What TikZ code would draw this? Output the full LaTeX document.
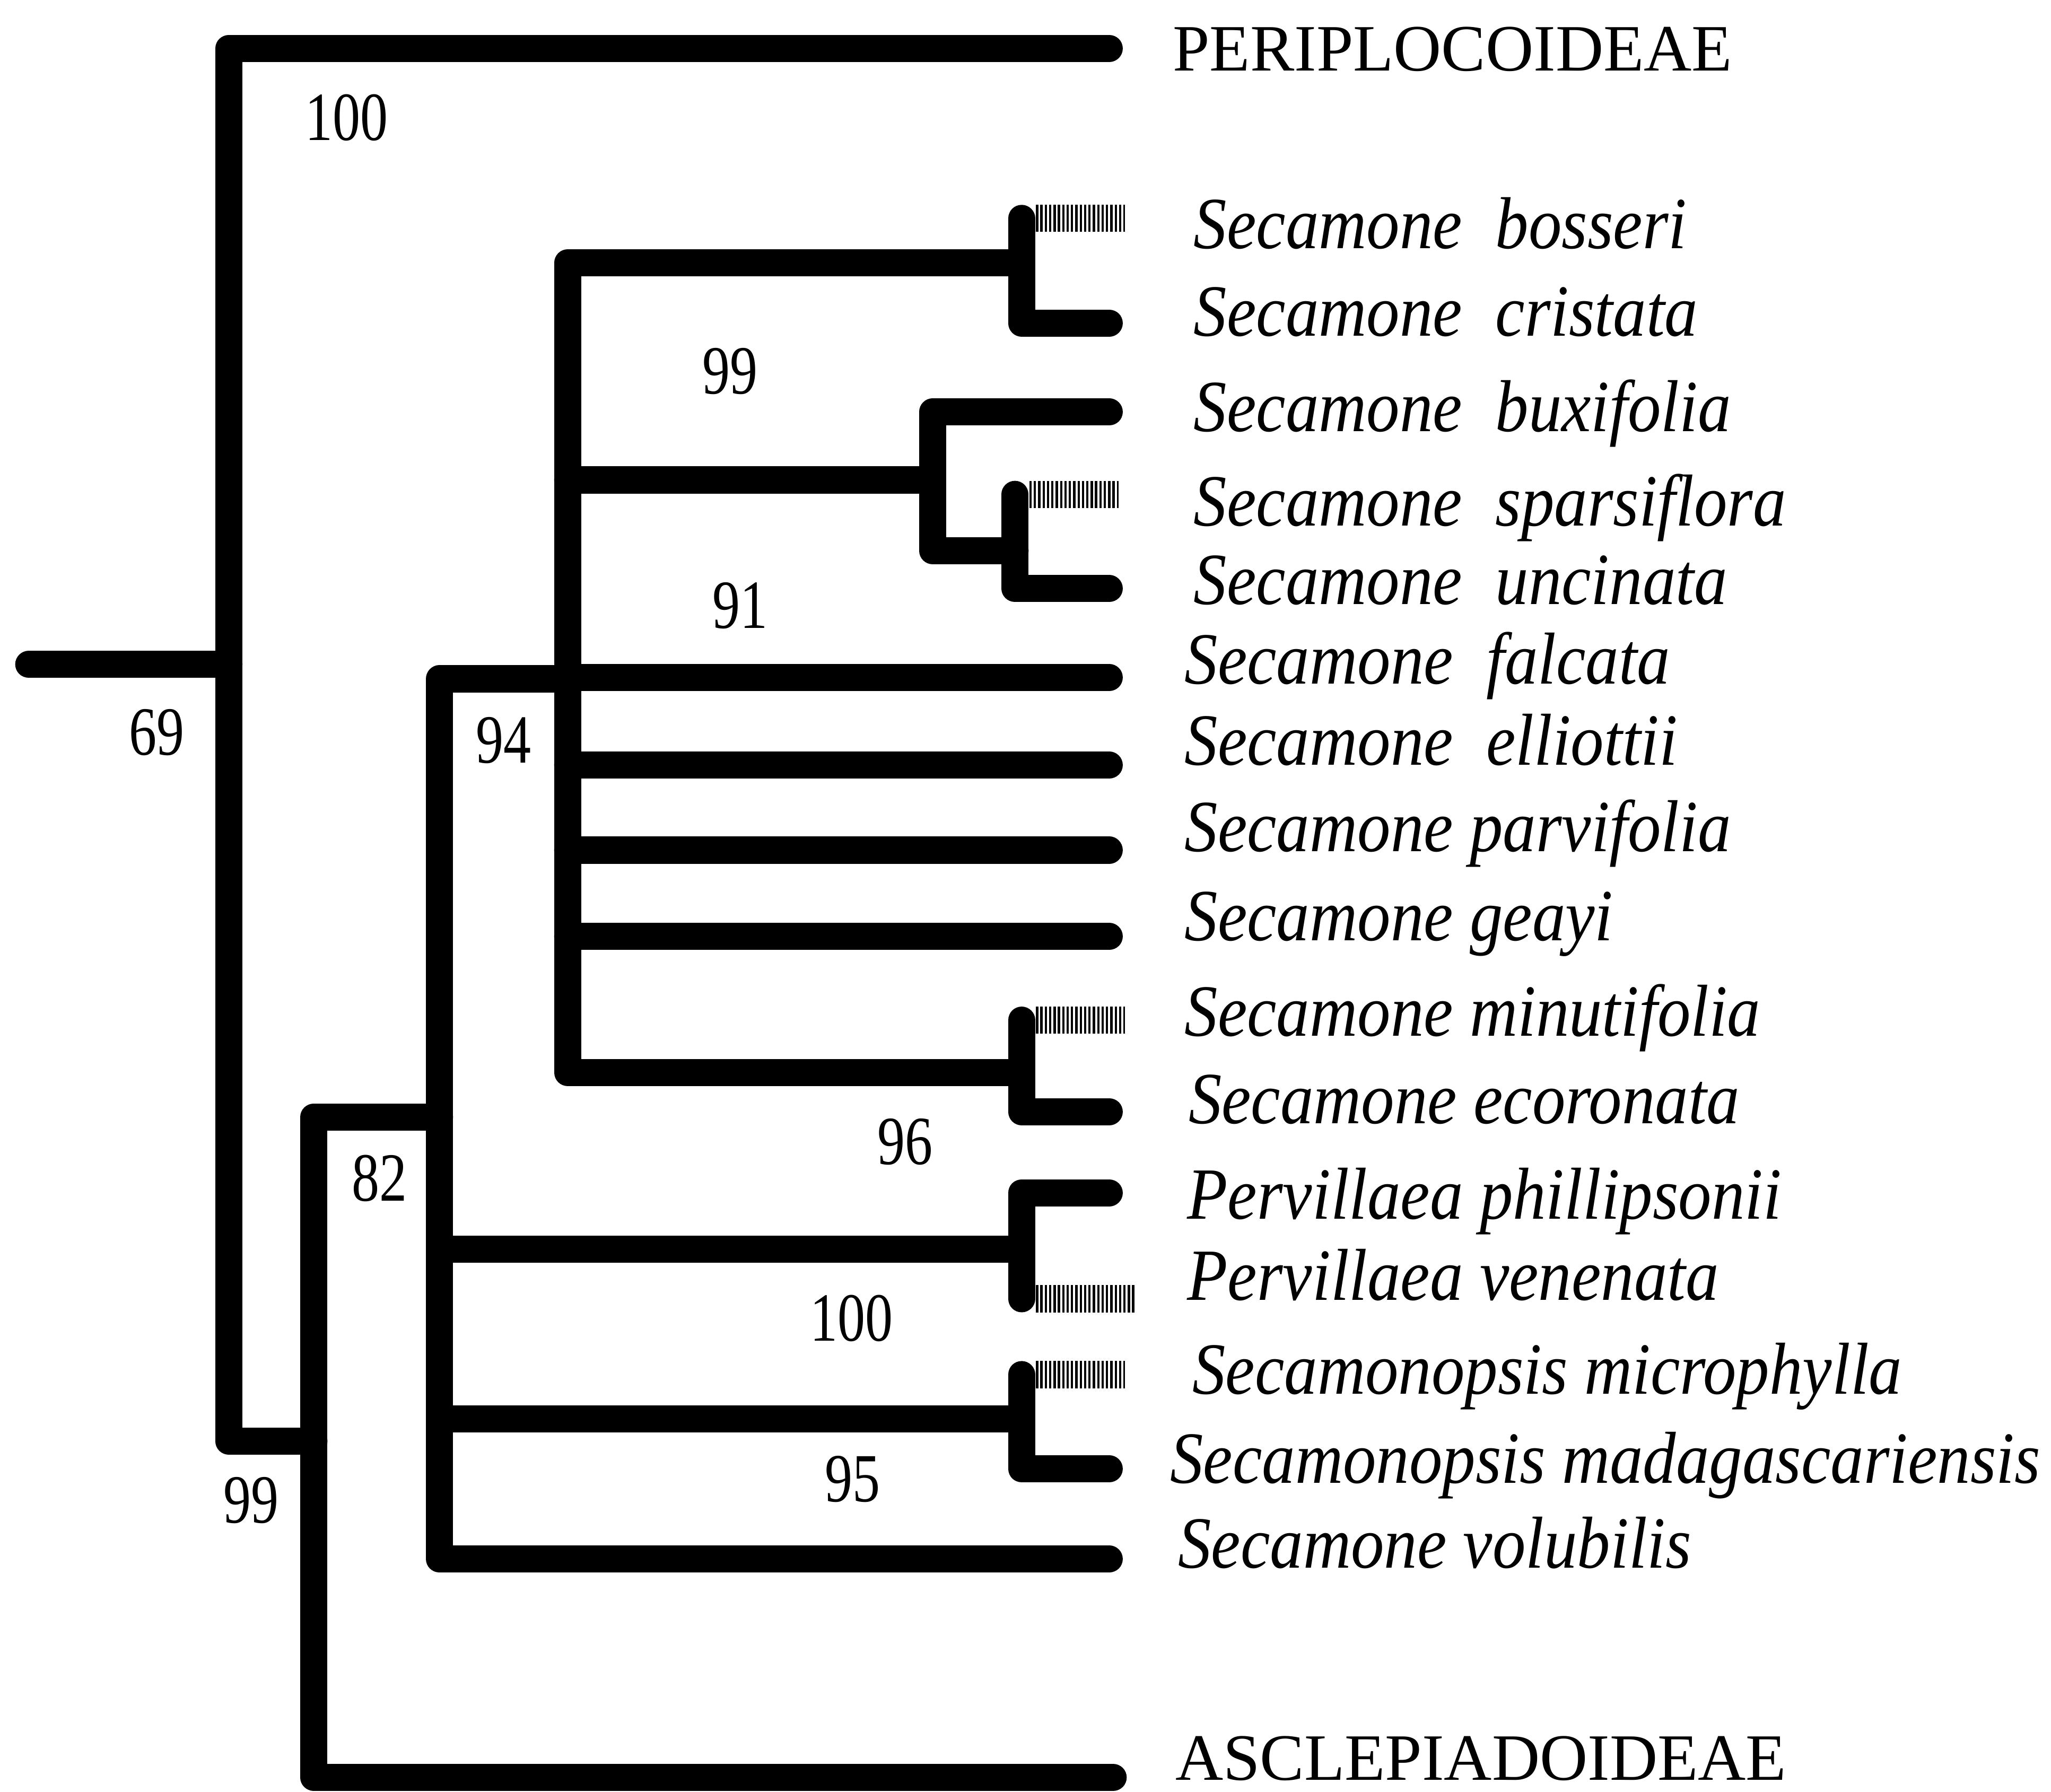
\documentclass[tikz,border=0pt]{standalone}
\usepackage{fontspec}
\setmainfont{Liberation Serif}
\newfontfamily\taxfont{Liberation Serif}[FakeStretch=0.9]
\newfontfamily\supfont{Liberation Serif}[FakeStretch=0.8]
\usetikzlibrary{calc}

\begin{document}
\begin{tikzpicture}[
  x=0.01cm, y=-0.01cm,
  br/.style={line width=5.9pt, line cap=round, line join=round},
  hatch/.style={line width=5.9pt, dash pattern=on 0.5pt off 0.45pt},
  taxon/.style={anchor=base west, inner sep=0pt,
                font=\taxfont\fontsize{16}{19}\selectfont\itshape},
  group/.style={anchor=base west, inner sep=0pt, font=\fontsize{14.4}{17}\selectfont},
  bs/.style={inner sep=0pt, font=\supfont\fontsize{15}{17}\selectfont},
]
\useasboundingbox (0,0) rectangle (1568,1370);

% internal nodes
\coordinate (root) at (22,508);
\coordinate (r)    at (175,508);
\coordinate (n99b) at (240,1102);
\coordinate (n82)  at (336,854);
\coordinate (n94)  at (434,519);
\coordinate (nBos) at (781,201);
\coordinate (n99a) at (713,367);
\coordinate (nSpa) at (776,421);
\coordinate (nMin) at (781,820);
\coordinate (nPer) at (781,955);
\coordinate (nSmp) at (781,1085);

% tips
\coordinate (tPeri) at (848,37);
\coordinate (tBos) at (781,167);
\coordinate (tCri) at (848,247);
\coordinate (tBux) at (848,315);
\coordinate (tSpa) at (776,378);
\coordinate (tUnc) at (848,450);
\coordinate (tFal) at (848,518);
\coordinate (tEll) at (848,585);
\coordinate (tPar) at (848,650);
\coordinate (tGea) at (848,716);
\coordinate (tMin) at (781,780);
\coordinate (tEco) at (848,850);
\coordinate (tPhi) at (848,912);
\coordinate (tVen) at (781,993);
\coordinate (tMic) at (781,1051);
\coordinate (tMad) at (848,1123);
\coordinate (tVol) at (848,1192);
\coordinate (tAscl) at (851,1359);

\draw[br] (root) -- (r);
\draw[br] (tPeri) -| (r) |- (n99b);
\draw[br] (n82) -| (n99b) |- (tAscl);
\draw[br] (n94) -| (n82) |- (tVol);
\draw[br] (n82 |- nPer) -- (nPer);
\draw[br] (n82 |- nSmp) -- (nSmp);
\draw[br] (nBos) -| (n94) |- (nMin);
\foreach \t in {n99a,tFal,tEll,tPar,tGea}
  \draw[br] (n94 |- \t) -- (\t);
\draw[br] (tBos) |- (tCri);
\draw[br] (tBux) -| (n99a) |- (nSpa);
\draw[br] (tSpa) |- (tUnc);
\draw[br] (tMin) |- (tEco);
\draw[br] (tPhi) -| (tVen);
\draw[br] (tMic) |- (tMad);
\foreach \t in {tBos,tSpa,tMin,tMic}
  \draw[hatch] ($(\t)+(11,0)$) -- ++(68,0);
\draw[hatch] ($(tVen)+(11,0)$) -- ++(76,0);

\node[group] (lPeri) at (896,54) {PERIPLOCOIDEAE};
\node[taxon] (lBos) at (912,190) {Secamone\ \ bosseri};
\node[taxon] (lCri) at (912,257) {Secamone\ \ cristata};
\node[taxon] (lBux) at (912,330) {Secamone\ \ buxifolia};
\node[taxon] (lSpa) at (912,402) {Secamone\ \ sparsiflora};
\node[taxon] (lUnc) at (912,462) {Secamone\ \ uncinata};
\node[taxon] (lFal) at (905,523) {Secamone\ \ falcata};
\node[taxon] (lEll) at (905,585) {Secamone\ \ elliottii};
\node[taxon] (lPar) at (905,651) {Secamone parvifolia};
\node[taxon] (lGea) at (905,719) {Secamone geayi};
\node[taxon] (lMin) at (905,792) {Secamone minutifolia};
\node[taxon] (lEco) at (908,859) {Secamone ecoronata};
\node[taxon] (lPhi) at (907,932) {Pervillaea phillipsonii};
\node[taxon] (lVen) at (907,994) {Pervillaea venenata};
\node[taxon] (lMic) at (911,1066) {Secamonopsis microphylla};
\node[taxon] (lMad) at (894,1134) {Secamonopsis madagascariensis};
\node[taxon] (lVol) at (900,1199) {Secamone volubilis};
\node[group] (lAscl) at (898,1361) {ASCLEPIADOIDEAE};

\node[bs] (bPeri) at (265,90)   {100};
\node[bs] (bRoot) at (120,560)  {69};
\node[bs] (b99a)  at (558,284)  {99};
\node[bs] (b91)   at (566,463)  {91};
\node[bs] (b94)   at (385,566)  {94};
\node[bs] (b82)   at (290,901)  {82};
\node[bs] (b96)   at (692,873)  {96};
\node[bs] (bPer)  at (651,1008) {100};
\node[bs] (b95)   at (652,1131) {95};
\node[bs] (b99b)  at (192,1147) {99};
\end{tikzpicture}
\end{document}
